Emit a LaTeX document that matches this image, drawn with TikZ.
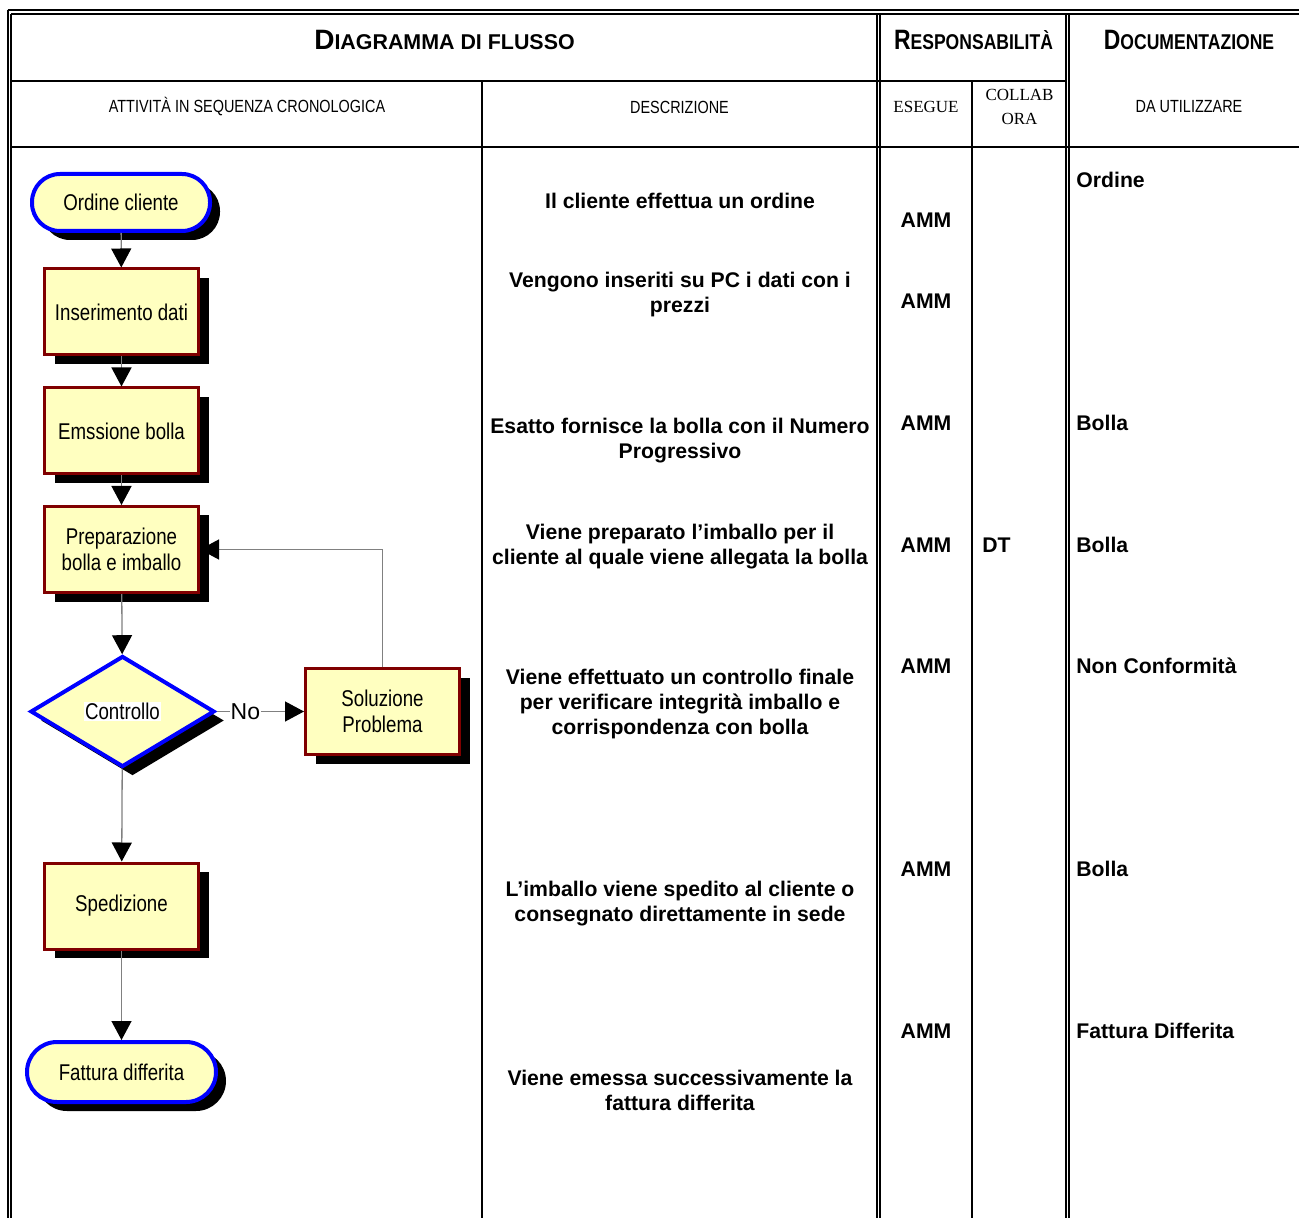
\documentclass[tikz,border=0pt]{standalone}
\usepackage{fontspec}
\setmainfont{Liberation Sans}
\newfontfamily\narrowfont[FakeStretch=0.82]{Liberation Sans}
\newfontfamily\seriffont{Liberation Serif}
\usepackage{tikz}
\usetikzlibrary{shapes,positioning,arrows.meta,shadows}
\definecolor{giallino}{RGB}{255,255,192}
\definecolor{rossoscuro}{RGB}{128,0,0}
\newcommand\capsmall[2]{{\fontsize{14}{17}\selectfont #1}{\fontsize{10.7}{13}\selectfont #2}}
\tikzset {
ombra/.style={drop shadow={shadow xshift=5pt,shadow yshift=-4.5pt,opacity=1,fill=black}},
attivita/.style={shape=rectangle,draw=rossoscuro,line width=1.5pt,fill=giallino,ombra,
  minimum width=77pt,minimum height=43pt,align=center,font=\narrowfont\fontsize{11.4}{13}\selectfont},
terminale/.style={shape=rectangle,rounded corners=14pt,draw=blue,line width=2pt,fill=giallino,ombra,
  minimum width=89pt,minimum height=28.5pt,font=\narrowfont\fontsize{11.4}{13}\selectfont},
decisione/.style={shape=diamond,aspect=1.65,draw=blue,line width=2pt,fill=giallino,ombra,inner sep=0pt,
  minimum width=92pt,minimum height=55.5pt,font=\narrowfont\fontsize{11.4}{13}\selectfont},
freccia/.style={draw=gray,line width=0.65pt,-{Triangle[length=9.5pt,width=10pt,color=black]}},
testo/.style={inner sep=0pt,align=center,font=\bfseries\fontsize{10.6}{12.5}\selectfont},
intesta/.style={inner sep=0pt,align=center,font=\narrowfont\fontsize{8.8}{11}\selectfont},
tabella/.style={line width=1pt}
}
\begin{document}
\begin{tikzpicture}
[x=0.5pt,y=-0.5pt]
\useasboundingbox (0,0) rectangle (1299,1218);
% tabella
\draw[tabella] (7.5,10.5) -- (1299,10.5);
\draw[tabella] (11,14) -- (1299,14);
\draw[tabella] (7.5,10.5) -- (7.5,1218);
\draw[tabella] (11,14) -- (11,1218);
\draw[tabella] (876.5,14) -- (876.5,1218);
\draw[tabella] (879.5,14) -- (879.5,1218);
\draw[tabella] (1066,14) -- (1066,1218);
\draw[tabella] (1069,14) -- (1069,1218);
\draw[tabella] (11,81) -- (1066,81);
\draw[tabella] (11,147) -- (1299,147);
\draw[tabella] (482,81) -- (482,1218);
\draw[tabella] (972,81) -- (972,1218);
% intestazioni
\node (titolo) at (444.5,40) {\bfseries\capsmall{D}{IAGRAMMA DI FLUSSO}};
\node (resp) at (973.5,40) {\bfseries\narrowfont\capsmall{R}{ESPONSABILITÀ}};
\node (docum) at (1189,40) {\bfseries\narrowfont\capsmall{D}{OCUMENTAZIONE}};
\node[intesta] (attiv) at (247,107) {ATTIVITÀ IN SEQUENZA CRONOLOGICA};
\node[intesta] (descr) at (679.5,107) {DESCRIZIONE};
\node[intesta] (dautil) at (1189,107) {DA UTILIZZARE};
\node[inner sep=0pt,font=\seriffont\fontsize{8.5}{12}\selectfont] (esegue) at (926,107) {ESEGUE};
\node[inner sep=0pt,align=center,font=\seriffont\fontsize{8.5}{12}\selectfont] (collab) at (1019.5,107) {COLLAB\\ORA};
% diagramma
\node[terminale] (ordine) at (121,202.5) {Ordine cliente};
\node[attivita] (inser) at (121.5,312) {Inserimento dati};
\node[attivita] (emiss) at (121.5,431) {Emssione bolla};
\node[attivita] (prepar) at (121.5,549.5) {Preparazione\\bolla e imballo};
\node[decisione] (contr) at (122.5,711.5) {\setlength\fboxsep{0.5pt}\colorbox{white}{Controllo}};
\node[attivita] (soluz) at (382.5,711.5) {Soluzione\\Problema};
\node[attivita] (spediz) at (121.5,906) {Spedizione};
\node[terminale,minimum width=94.5pt,minimum height=30pt,rounded corners=15pt] (fattura) at (121.5,1072) {Fattura differita};
\draw[freccia] (ordine) -- (inser);
\draw[freccia] (inser) -- (emiss);
\draw[freccia] (emiss) -- (prepar);
\draw[freccia] (prepar) -- (contr);
\draw[freccia] (contr) -- node[pos=0.33,fill=white,inner sep=0.5pt,font=\fontsize{11.5}{13}\selectfont] (no) {No} (soluz);
\draw[freccia] (soluz.north) |- (prepar.east);
\draw[freccia] (contr) -- (spediz);
\draw[freccia] (spediz) -- (fattura);
% descrizioni
\node[testo] (d1) at (680,201) {Il cliente effettua un ordine};
\node[testo] (d2) at (680,294.5) {Vengono inseriti su PC i dati con i\\prezzi};
\node[testo] (d3) at (680,440.5) {Esatto fornisce la bolla con il Numero\\Progressivo};
\node[testo] (d4) at (680,546.5) {Viene preparato l’imballo per il\\cliente al quale viene allegata la bolla};
\node[testo] (d5) at (680,704.5) {Viene effettuato un controllo finale\\per verificare integrità imballo e\\corrispondenza con bolla};
\node[testo] (d6) at (680,903.5) {L’imballo viene spedito al cliente o\\consegnato direttamente in sede};
\node[testo] (d7) at (680,1090.5) {Viene emessa successivamente la\\fattura differita};
% responsabilita
\foreach \y [count=\i] in {220,301,423,545,666,869,1031}
  \node[testo] (amm\i) at (926,\y) {AMM};
\node[testo,anchor=west] (dt) at (982,545) {DT};
% documenti
\node[testo,anchor=west] (doc1) at (1076,180) {Ordine};
\node[testo,anchor=west] (doc2) at (1076,423) {Bolla};
\node[testo,anchor=west] (doc3) at (1076,545) {Bolla};
\node[testo,anchor=west] (doc4) at (1076,666) {Non Conformità};
\node[testo,anchor=west] (doc5) at (1076,869) {Bolla};
\node[testo,anchor=west] (doc6) at (1076,1031) {Fattura Differita};
\end{tikzpicture}
\end{document}
